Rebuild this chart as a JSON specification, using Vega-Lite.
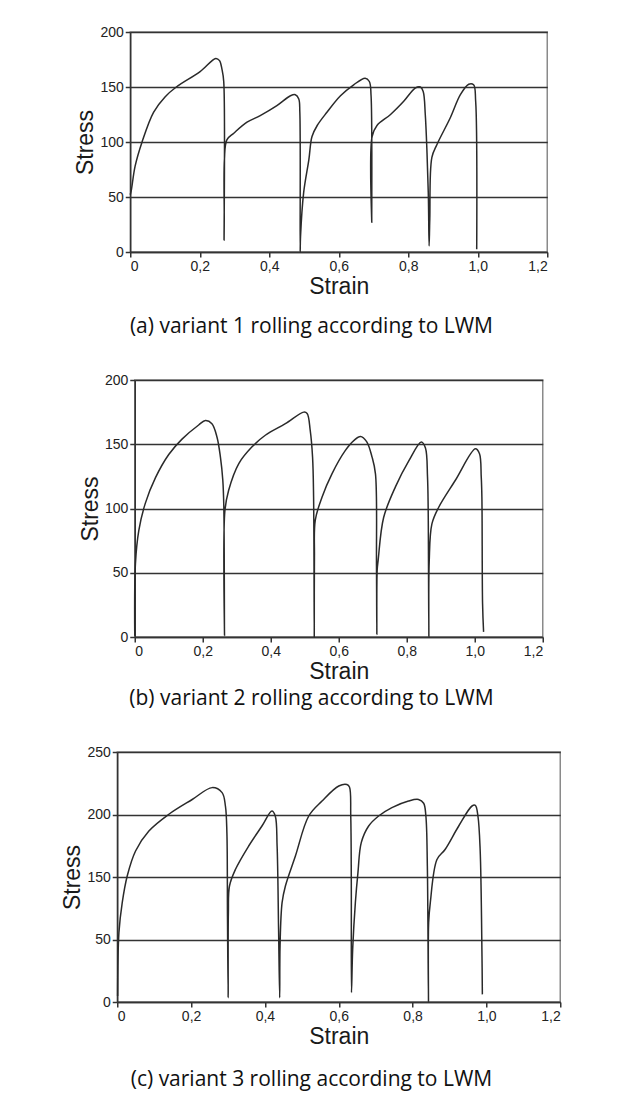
{
  "$schema": "https://vega.github.io/schema/vega-lite/v6.json",
  "background": "white",
  "padding": {"left": 61, "top": 24, "right": 5, "bottom": 5},
  "center": true,
  "spacing": 34,
  "config": {
    "view": {"stroke": "#8a8a8a", "strokeWidth": 1.5},
    "axis": {
      "domainColor": "#333", "domainWidth": 1.5,
      "tickColor": "#333", "tickWidth": 1.5, "tickSize": 5,
      "labelFont": "Liberation Sans", "labelFontSize": 14, "labelColor": "#222", "labelPadding": 2,
      "titleFont": "Liberation Sans", "titleFontSize": 23, "titleFontWeight": "normal", "titleColor": "#1a1a1a"
    },
    "axisX": {"grid": false, "titlePadding": 2, "labelOverlap": false},
    "axisY": {"grid": true, "gridColor": "#333", "gridWidth": 1.5, "gridOpacity": 1, "titlePadding": 2},
    "title": {"font": "Open Sans", "fontSize": 21, "fontWeight": "normal", "color": "#111", "orient": "bottom", "anchor": "middle", "frame": "bounds"},
    "line": {"color": "#2a2a2a", "strokeWidth": 1.5, "interpolate": "catmull-rom"}
  },
  "datasets": {
    "a": [
      {"strain": 0, "stress": 52}, {"strain": 0.003, "stress": 56}, {"strain": 0.014, "stress": 78}, {"strain": 0.034, "stress": 100},
      {"strain": 0.067, "stress": 127}, {"strain": 0.1, "stress": 141}, {"strain": 0.1325, "stress": 150}, {"strain": 0.201, "stress": 164},
      {"strain": 0.246, "stress": 176}, {"strain": 0.257, "stress": 174}, {"strain": 0.264, "stress": 166}, {"strain": 0.269, "stress": 155},
      {"strain": 0.27, "stress": 11}, {"strain": 0.2705, "stress": 30}, {"strain": 0.271, "stress": 84}, {"strain": 0.278, "stress": 102},
      {"strain": 0.298, "stress": 108}, {"strain": 0.336, "stress": 118}, {"strain": 0.374, "stress": 124}, {"strain": 0.422, "stress": 133},
      {"strain": 0.461, "stress": 142}, {"strain": 0.475, "stress": 143}, {"strain": 0.485, "stress": 139}, {"strain": 0.488, "stress": 127},
      {"strain": 0.489, "stress": 0}, {"strain": 0.49, "stress": 14}, {"strain": 0.499, "stress": 54}, {"strain": 0.514, "stress": 84},
      {"strain": 0.523, "stress": 105}, {"strain": 0.538, "stress": 115}, {"strain": 0.566, "stress": 127}, {"strain": 0.605, "stress": 142},
      {"strain": 0.643, "stress": 152}, {"strain": 0.676, "stress": 158}, {"strain": 0.688, "stress": 155}, {"strain": 0.693, "stress": 142},
      {"strain": 0.695, "stress": 27}, {"strain": 0.696, "stress": 105}, {"strain": 0.71, "stress": 115}, {"strain": 0.749, "stress": 125},
      {"strain": 0.787, "stress": 137}, {"strain": 0.82, "stress": 149}, {"strain": 0.835, "stress": 150}, {"strain": 0.843, "stress": 146},
      {"strain": 0.849, "stress": 125}, {"strain": 0.854, "stress": 90}, {"strain": 0.858, "stress": 49}, {"strain": 0.86, "stress": 5.5},
      {"strain": 0.862, "stress": 30}, {"strain": 0.868, "stress": 86}, {"strain": 0.883, "stress": 98}, {"strain": 0.921, "stress": 122},
      {"strain": 0.95, "stress": 143}, {"strain": 0.974, "stress": 152.5}, {"strain": 0.988, "stress": 152}, {"strain": 0.994, "stress": 137},
      {"strain": 0.997, "stress": 2.5}
    ],
    "b": [
      {"strain": 0, "stress": 1}, {"strain": 0.002, "stress": 57}, {"strain": 0.012, "stress": 83}, {"strain": 0.031, "stress": 104},
      {"strain": 0.061, "stress": 124}, {"strain": 0.1, "stress": 142}, {"strain": 0.139, "stress": 154}, {"strain": 0.188, "stress": 165},
      {"strain": 0.208, "stress": 168.5}, {"strain": 0.227, "stress": 166}, {"strain": 0.242, "stress": 155.5}, {"strain": 0.252, "stress": 140},
      {"strain": 0.259, "stress": 122}, {"strain": 0.262, "stress": 101}, {"strain": 0.264, "stress": 1}, {"strain": 0.265, "stress": 98},
      {"strain": 0.276, "stress": 114}, {"strain": 0.306, "stress": 135}, {"strain": 0.345, "stress": 148}, {"strain": 0.384, "stress": 157},
      {"strain": 0.443, "stress": 166}, {"strain": 0.497, "stress": 175}, {"strain": 0.507, "stress": 174}, {"strain": 0.516, "stress": 161},
      {"strain": 0.523, "stress": 140}, {"strain": 0.526, "stress": 109}, {"strain": 0.528, "stress": 0}, {"strain": 0.5285, "stress": 62},
      {"strain": 0.531, "stress": 91}, {"strain": 0.551, "stress": 109}, {"strain": 0.58, "stress": 127}, {"strain": 0.619, "stress": 145},
      {"strain": 0.645, "stress": 153}, {"strain": 0.664, "stress": 156}, {"strain": 0.682, "stress": 152}, {"strain": 0.698, "stress": 140},
      {"strain": 0.708, "stress": 127}, {"strain": 0.711, "stress": 55}, {"strain": 0.712, "stress": 2}, {"strain": 0.713, "stress": 52},
      {"strain": 0.716, "stress": 60}, {"strain": 0.732, "stress": 93}, {"strain": 0.767, "stress": 117}, {"strain": 0.806, "stress": 137},
      {"strain": 0.843, "stress": 151.7}, {"strain": 0.855, "stress": 147}, {"strain": 0.861, "stress": 125}, {"strain": 0.863, "stress": 100},
      {"strain": 0.865, "stress": 0}, {"strain": 0.866, "stress": 58}, {"strain": 0.874, "stress": 88}, {"strain": 0.894, "stress": 101},
      {"strain": 0.943, "stress": 122}, {"strain": 1.002, "stress": 146.5}, {"strain": 1.014, "stress": 142.6}, {"strain": 1.019, "stress": 125},
      {"strain": 1.021, "stress": 109}, {"strain": 1.023, "stress": 26}, {"strain": 1.026, "stress": 4}
    ],
    "c": [
      {"strain": 0.001, "stress": 4.8}, {"strain": 0.0045, "stress": 60.9}, {"strain": 0.0135, "stress": 109}, {"strain": 0.027, "stress": 150.8},
      {"strain": 0.0496, "stress": 170.8}, {"strain": 0.0857, "stress": 186.8}, {"strain": 0.1398, "stress": 200.2}, {"strain": 0.203, "stress": 212},
      {"strain": 0.257, "stress": 221.5}, {"strain": 0.284, "stress": 217.5}, {"strain": 0.293, "stress": 206.8}, {"strain": 0.297, "stress": 185.5},
      {"strain": 0.2986, "stress": 87}, {"strain": 0.3004, "stress": 3.5}, {"strain": 0.301, "stress": 92}, {"strain": 0.304, "stress": 135.6},
      {"strain": 0.32, "stress": 156}, {"strain": 0.356, "stress": 174.8}, {"strain": 0.392, "stress": 190.8}, {"strain": 0.419, "stress": 202.8},
      {"strain": 0.428, "stress": 198.8}, {"strain": 0.433, "stress": 174.8}, {"strain": 0.437, "stress": 66.3}, {"strain": 0.44, "stress": 3.5},
      {"strain": 0.441, "stress": 45}, {"strain": 0.4465, "stress": 109}, {"strain": 0.4555, "stress": 135.6}, {"strain": 0.4826, "stress": 166.8},
      {"strain": 0.5187, "stress": 198.8}, {"strain": 0.5547, "stress": 210.8}, {"strain": 0.6, "stress": 222.8}, {"strain": 0.622, "stress": 224},
      {"strain": 0.629, "stress": 222}, {"strain": 0.6325, "stress": 198.8}, {"strain": 0.634, "stress": 141}, {"strain": 0.6345, "stress": 7.5},
      {"strain": 0.6377, "stress": 42}, {"strain": 0.645, "stress": 109}, {"strain": 0.652, "stress": 153.5}, {"strain": 0.661, "stress": 177.5},
      {"strain": 0.681, "stress": 190.8}, {"strain": 0.708, "stress": 198.8}, {"strain": 0.744, "stress": 205.5}, {"strain": 0.789, "stress": 210.8},
      {"strain": 0.816, "stress": 212}, {"strain": 0.83, "stress": 209}, {"strain": 0.836, "stress": 198.8}, {"strain": 0.84, "stress": 158.8},
      {"strain": 0.843, "stress": 0}, {"strain": 0.8435, "stress": 76.9}, {"strain": 0.848, "stress": 109}, {"strain": 0.866, "stress": 164},
      {"strain": 0.888, "stress": 172}, {"strain": 0.925, "stress": 190.8}, {"strain": 0.961, "stress": 206.8}, {"strain": 0.97, "stress": 207.3},
      {"strain": 0.977, "stress": 198.8}, {"strain": 0.983, "stress": 172}, {"strain": 0.988, "stress": 36.8}, {"strain": 0.989, "stress": 6.1}
    ]
  },
  "vconcat": [
    {
      "width": 417, "height": 220,
      "title": {"text": "(a) variant 1 rolling according to LWM", "offset": 18},
      "data": {"name": "a"},
      "mark": {"type": "line"},
      "encoding": {
        "x": {"field": "strain", "type": "quantitative", "scale": {"domain": [0, 1.2], "nice": false},
              "axis": {"title": "Strain", "values": [0, 0.2, 0.4, 0.6, 0.8, 1, 1.2], "labelExpr": "datum.value == 0 ? '0' : replace(format(datum.value, '.1f'), '.', ',')"}},
        "y": {"field": "stress", "type": "quantitative", "scale": {"domain": [0, 200], "nice": false},
              "axis": {"title": "Stress", "values": [0, 50, 100, 150, 200]}},
        "order": {"value": null}
      }
    },
    {
      "width": 408, "height": 257,
      "title": {"text": "(b) variant 2 rolling according to LWM", "offset": 5},
      "data": {"name": "b"},
      "mark": {"type": "line"},
      "encoding": {
        "x": {"field": "strain", "type": "quantitative", "scale": {"domain": [0, 1.2], "nice": false},
              "axis": {"title": "Strain", "values": [0, 0.2, 0.4, 0.6, 0.8, 1, 1.2], "labelExpr": "datum.value == 0 ? '0' : replace(format(datum.value, '.1f'), '.', ',')"}},
        "y": {"field": "stress", "type": "quantitative", "scale": {"domain": [0, 200], "nice": false},
              "axis": {"title": "Stress", "values": [0, 50, 100, 150, 200]}},
        "order": {"value": null}
      }
    },
    {
      "width": 443, "height": 250,
      "title": {"text": "(c) variant 3 rolling according to LWM", "offset": 21},
      "data": {"name": "c"},
      "mark": {"type": "line"},
      "encoding": {
        "x": {"field": "strain", "type": "quantitative", "scale": {"domain": [0, 1.2], "nice": false},
              "axis": {"title": "Strain", "values": [0, 0.2, 0.4, 0.6, 0.8, 1, 1.2], "labelExpr": "datum.value == 0 ? '0' : replace(format(datum.value, '.1f'), '.', ',')"}},
        "y": {"field": "stress", "type": "quantitative", "scale": {"domain": [0, 50, 150, 200, 250], "range": [250, 187.5, 125, 62.5, 0], "nice": false, "zero": false},
              "axis": {"title": "Stress", "values": [0, 50, 150, 200, 250]}},
        "order": {"value": null}
      }
    }
  ]
}
